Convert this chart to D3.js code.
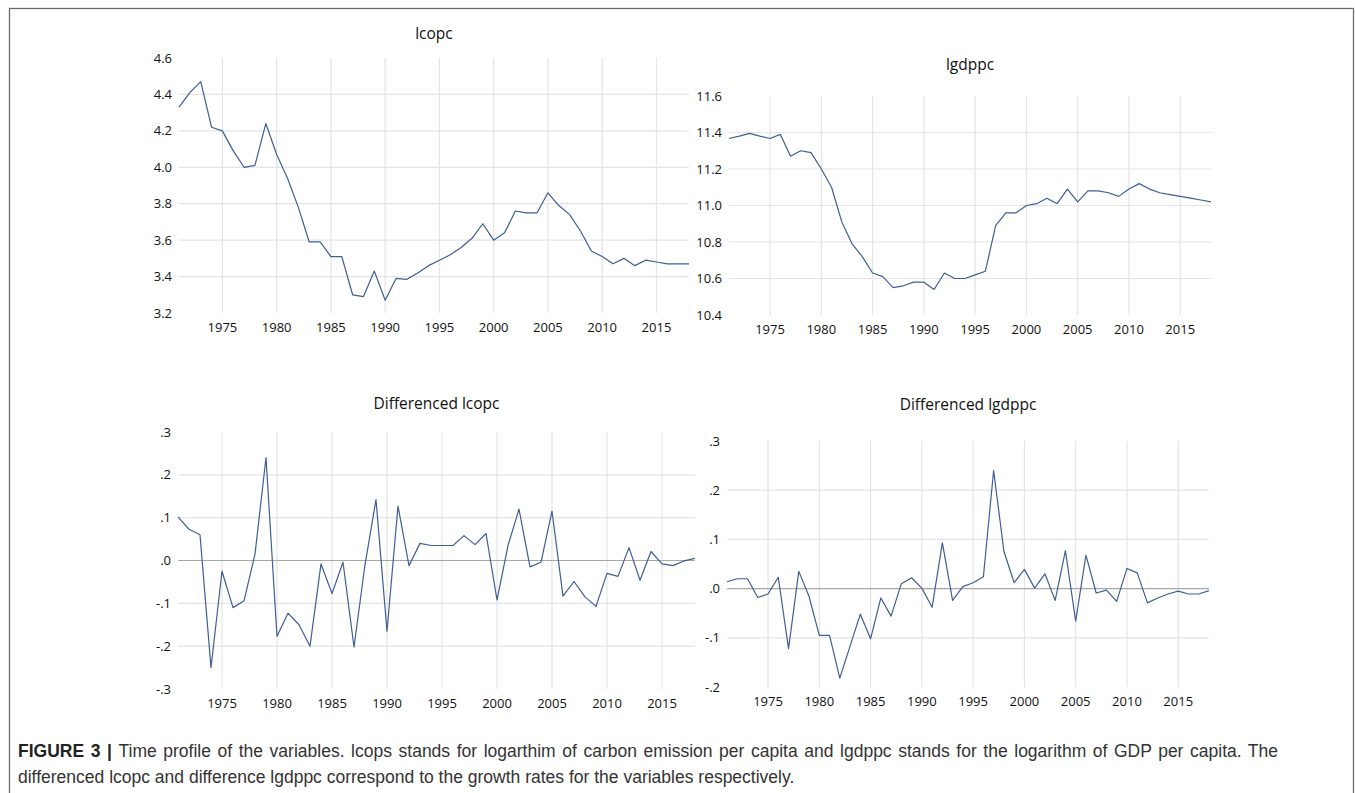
<!DOCTYPE html>
<html>
<head>
<meta charset="utf-8">
<title>Figure 3</title>
<script src="https://d3js.org/d3.v7.min.js"></script>
<style>
  body { margin: 0; background: #fff; }
  text.tick { font-family: "Open Sans", sans-serif; font-size: 13px; fill: #111; }
  text.title { font-family: "Open Sans", sans-serif; font-size: 15.5px; fill: #111; text-anchor: middle; }
  text.caption { font-family: "Liberation Sans", Arial, sans-serif; font-size: 17.5px; fill: #333; }
</style>
</head>
<body>
<svg id="fig" width="1355" height="793"></svg>
<script>
// years shown on every panel
const years = [1971, 1972, 1973, 1974, 1975, 1976, 1977, 1978, 1979, 1980,
  1981, 1982, 1983, 1984, 1985, 1986, 1987, 1988, 1989, 1990,
  1991, 1992, 1993, 1994, 1995, 1996, 1997, 1998, 1999, 2000,
  2001, 2002, 2003, 2004, 2005, 2006, 2007, 2008, 2009, 2010,
  2011, 2012, 2013, 2014, 2015, 2016, 2017, 2018];
const yearTicks = [1975, 1980, 1985, 1990, 1995, 2000, 2005, 2010, 2015];

// values
const lcopc = [4.33, 4.41, 4.47, 4.22, 4.20, 4.09, 4.00, 4.01, 4.24, 4.07,
  3.94, 3.78, 3.59, 3.59, 3.51, 3.51, 3.30, 3.29, 3.43, 3.27,
  3.39, 3.385, 3.42, 3.46, 3.49, 3.52, 3.56, 3.61, 3.69, 3.60,
  3.64, 3.76, 3.75, 3.75, 3.86, 3.79, 3.74, 3.65, 3.54, 3.51,
  3.47, 3.50, 3.46, 3.49, 3.48, 3.47, 3.47, 3.47];
const lgdppc = [11.367, 11.38, 11.395, 11.38, 11.367, 11.39, 11.27, 11.30, 11.29, 11.20,
  11.10, 10.91, 10.79, 10.72, 10.63, 10.61, 10.55, 10.56, 10.58, 10.58,
  10.54, 10.63, 10.60, 10.60, 10.62, 10.64, 10.89, 10.96, 10.96, 11.00,
  11.01, 11.04, 11.01, 11.09, 11.02, 11.08, 11.08, 11.07, 11.05, 11.09,
  11.12, 11.09, 11.07, 11.06, 11.05, 11.04, 11.03, 11.02];
const dlcopc = [0.102, 0.073, 0.06, -0.25, -0.025, -0.11, -0.094, 0.015, 0.24, -0.177,
  -0.123, -0.15, -0.2, -0.008, -0.077, -0.004, -0.202, -0.01, 0.142, -0.165,
  0.127, -0.012, 0.04, 0.035, 0.035, 0.035, 0.058, 0.037, 0.063, -0.092,
  0.035, 0.12, -0.015, -0.004, 0.115, -0.083, -0.049, -0.085, -0.107, -0.03,
  -0.037, 0.03, -0.046, 0.021, -0.008, -0.012, -0.001, 0.005];
const dlgdppc = [0.014, 0.02, 0.02, -0.018, -0.011, 0.023, -0.122, 0.035, -0.016, -0.095,
  -0.095, -0.182, -0.117, -0.052, -0.102, -0.019, -0.056, 0.01, 0.022, 0.001,
  -0.038, 0.093, -0.024, 0.004, 0.012, 0.024, 0.24, 0.076, 0.012, 0.039,
  0.001, 0.03, -0.024, 0.077, -0.066, 0.068, -0.009, -0.003, -0.026, 0.041,
  0.032, -0.029, -0.019, -0.011, -0.005, -0.011, -0.011, -0.004];

const levelTicks1 = [3.2, 3.4, 3.6, 3.8, 4.0, 4.2, 4.4, 4.6];
const levelTicks2 = [10.4, 10.6, 10.8, 11.0, 11.2, 11.4, 11.6];
const diffTicks1 = [-0.3, -0.2, -0.1, 0.0, 0.1, 0.2, 0.3];
const diffTicks2 = [-0.2, -0.1, 0.0, 0.1, 0.2, 0.3];

const svg = d3.select("#fig");

// frame round the figure (bottom edge falls off the picture)
svg.append("rect")
  .attr("x", 9.5).attr("y", 8.5)
  .attr("width", 1344).attr("height", 800)
  .attr("fill", "none").attr("stroke", "#6b6b6b").attr("stroke-width", 1.3);

// plain hyphen for negatives, and no leading zero on the growth panels
const locale = d3.formatLocale({ decimal: ".", thousands: ",", grouping: [3], currency: ["", ""], minus: "-" });
const fmtLevel = locale.format(".1f");
const fmtDiff = (v) => locale.format(".1f")(v).replace("0.", ".");

const panels = [
  { title: "lcopc", values: lcopc, ticks: levelTicks1, fmt: fmtLevel,
    x0: 179, x1: 689, y0: 313, y1: 58, titleY: 34, zero: false },
  { title: "lgdppc", values: lgdppc, ticks: levelTicks2, fmt: fmtLevel,
    x0: 729, x1: 1211, y0: 315, y1: 96, titleY: 65, zero: false },
  { title: "Differenced lcopc", values: dlcopc, ticks: diffTicks1, fmt: fmtDiff,
    x0: 178, x1: 695, y0: 689, y1: 432, titleY: 404, zero: true },
  { title: "Differenced lgdppc", values: dlgdppc, ticks: diffTicks2, fmt: fmtDiff,
    x0: 727, x1: 1209, y0: 687, y1: 441, titleY: 405, zero: true }
];

panels.forEach((p) => {
  const x = d3.scaleLinear().domain([years[0], years[years.length - 1]]).range([p.x0, p.x1]);
  const y = d3.scaleLinear().domain(d3.extent(p.ticks)).range([p.y0, p.y1]);
  const g = svg.append("g");

  // vertical grid
  g.selectAll("line.vgrid")
    .data(yearTicks)
    .join("line")
    .attr("class", "vgrid")
    .attr("x1", (d) => x(d)).attr("x2", (d) => x(d))
    .attr("y1", p.y1).attr("y2", p.y0)
    .attr("stroke", "#e4e4e4").attr("stroke-width", 1.2);

  // horizontal grid, only the inner ticks
  const inner = p.ticks.slice(1, -1);
  g.selectAll("line.hgrid")
    .data(inner)
    .join("line")
    .attr("class", "hgrid")
    .attr("x1", p.x0).attr("x2", p.x1)
    .attr("y1", (d) => y(d)).attr("y2", (d) => y(d))
    .attr("stroke", (d) => (p.zero && Math.abs(d) < 1e-9 ? "#a8a8a8" : "#e4e4e4"))
    .attr("stroke-width", 1.2);

  // y labels
  g.selectAll("text.ylab")
    .data(p.ticks)
    .join("text")
    .attr("class", "tick ylab")
    .attr("x", p.x0 - 7)
    .attr("y", (d) => y(d))
    .attr("dy", "0.35em")
    .attr("text-anchor", "end")
    .text((d) => p.fmt(d));

  // x labels
  g.selectAll("text.xlab")
    .data(yearTicks)
    .join("text")
    .attr("class", "tick xlab")
    .attr("x", (d) => x(d))
    .attr("y", p.y0 + 14)
    .attr("dy", "0.35em")
    .attr("text-anchor", "middle")
    .text((d) => d);

  // title
  g.append("text")
    .attr("class", "title")
    .attr("x", (p.x0 + p.x1) / 2)
    .attr("y", p.titleY)
    .attr("dy", "0.35em")
    .text(p.title);

  // the series
  const line = d3.line()
    .x((d, i) => x(years[i]))
    .y((d) => y(d));
  g.append("path")
    .datum(p.values)
    .attr("d", line)
    .attr("fill", "none")
    .attr("stroke", "#3f5e95")
    .attr("stroke-width", 1.2)
    .attr("stroke-linejoin", "round");
});

// caption, first line justified out to the column edge
const capLeft = 18, capRight = 1278;
const cap = svg.append("text").attr("class", "caption").attr("x", capLeft).attr("y", 757);
cap.append("tspan").attr("font-weight", "bold").attr("fill", "#222").text("FIGURE 3 | ");
cap.append("tspan").text("Time profile of the variables. lcops stands for logarthim of carbon emission per capita and lgdppc stands for the logarithm of GDP per capita. The");
const natural = cap.node().getComputedTextLength();
const gaps = cap.text().split(" ").length - 1;
cap.attr("word-spacing", Math.max(0, (capRight - capLeft - natural) / gaps));
svg.append("text").attr("class", "caption").attr("x", capLeft).attr("y", 783)
  .text("differenced lcopc and difference lgdppc correspond to the growth rates for the variables respectively.");
</script>
</body>
</html>
